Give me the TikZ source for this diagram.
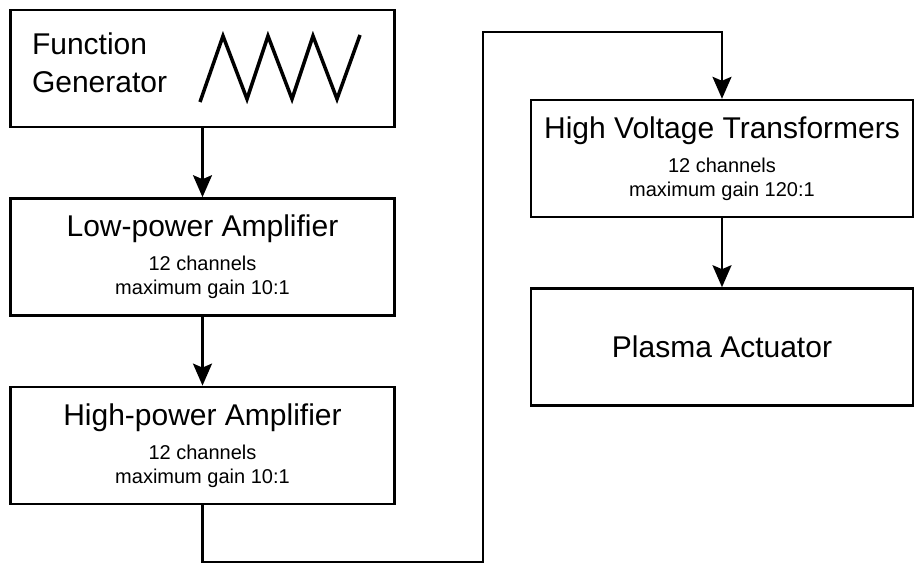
\documentclass[tikz,border=0pt]{standalone}
\usepackage{fontspec}
\setmainfont{Liberation Sans}
\usetikzlibrary{positioning,arrows.meta}

\newcommand{\blocktitle}[1]{{\fontsize{30}{34}\selectfont #1}}

\begin{document}
\begin{tikzpicture}[x=1pt, y=-1pt, node distance=69pt,
  every node/.style={align=center, font=\fontsize{20}{24}\selectfont},
  block/.style={draw, line width=2.4pt, minimum width=384pt, minimum height=117pt, inner sep=0pt},
  link/.style={-{Stealth[length=22pt,width=19pt,inset=4pt]}, line width=2.2pt}]

  \useasboundingbox (0,0) rectangle (916,564);

  % left column
  \node[block, align=left, text width=341pt, text depth=49pt, font=\fontsize{30}{38}\selectfont] (fg) at (202.5,68.5) {Function\\Generator};
  \node[block, below=of fg] (lpa) {\blocktitle{Low-power Amplifier}\\[10pt]12 channels\\maximum gain 10:1};
  \node[block, below=of lpa] (hpa) {\blocktitle{High-power Amplifier}\\[10pt]12 channels\\maximum gain 10:1};

  % right column
  \node[block, minimum width=382pt] (hvt) at (722,158.5) {\blocktitle{High Voltage Transformers}\\[10pt]12 channels\\maximum gain 120:1};
  \node[block, minimum width=382pt, below=of hvt] (pa) {\blocktitle{Plasma Actuator}};

  % triangle wave
  \draw[line width=3.5pt] (200,102) -- (223,36) -- (247,99) -- (268,36) -- (292,99) -- (313,36) -- (337,99) -- (360,35);

  \coordinate (turnlow) at (483,562);
  \coordinate (turnhigh) at (483,32);

  \draw[link] (fg) -- (lpa);
  \draw[link] (lpa) -- (hpa);
  \draw[link] (hpa.south) |- (turnlow) -- (turnhigh) -| (hvt.north);
  \draw[link] (hvt) -- (pa);
\end{tikzpicture}
\end{document}
